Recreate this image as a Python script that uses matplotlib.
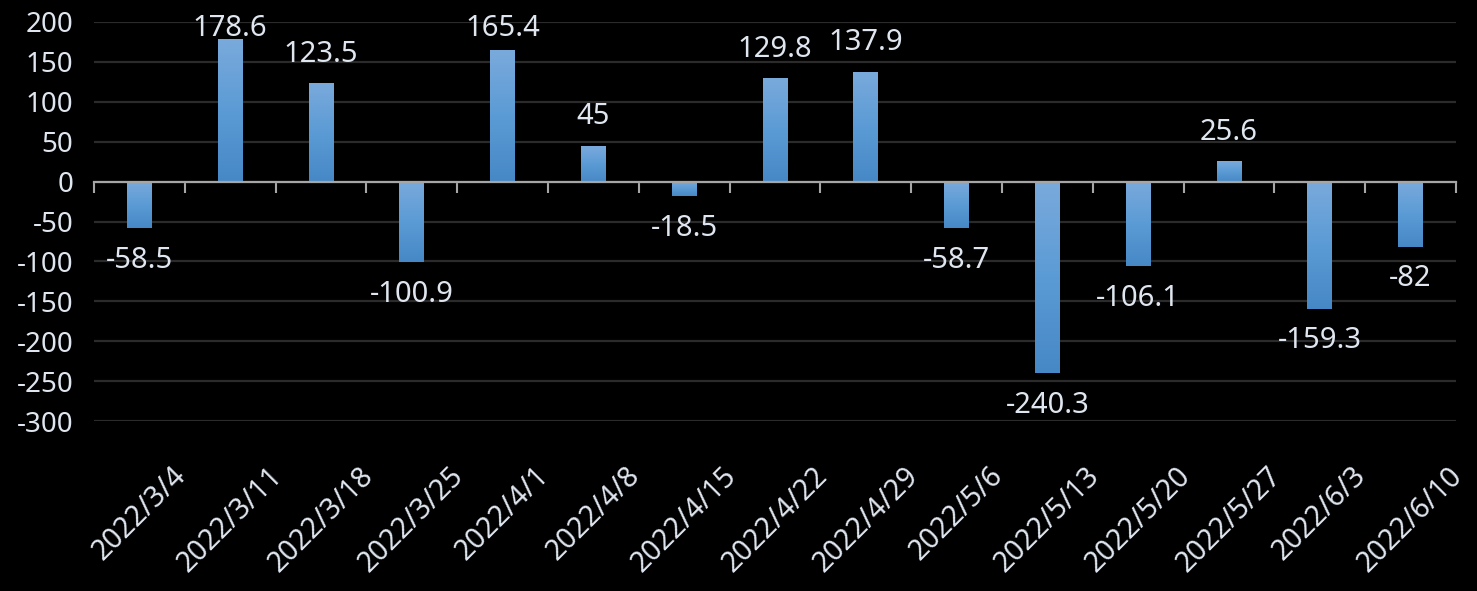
import numpy as np
import matplotlib
matplotlib.use("Agg")
import matplotlib.pyplot as plt
from matplotlib.colors import LinearSegmentedColormap

dates = ["2022/3/4", "2022/3/11", "2022/3/18", "2022/3/25", "2022/4/1",
         "2022/4/8", "2022/4/15", "2022/4/22", "2022/4/29", "2022/5/6",
         "2022/5/13", "2022/5/20", "2022/5/27", "2022/6/3", "2022/6/10"]
values = [-58.5, 178.6, 123.5, -100.9, 165.4, 45, -18.5, 129.8, 137.9,
          -58.7, -240.3, -106.1, 25.6, -159.3, -82]
yticks = [200, 150, 100, 50, 0, -50, -100, -150, -200, -250, -300]

plt.rcParams['font.family'] = ['Noto Sans', 'DejaVu Sans']
TXT = '#dfe6ef'

fig = plt.figure(figsize=(14.77, 5.91), dpi=100, facecolor='black')
ax = fig.add_axes([94/1477, 1-421/591, (1456-94)/1477, (421-22)/591])
ax.set_facecolor('black')

x = np.arange(len(values))
bars = ax.bar(x, values, width=0.275, color='#5b9bd5', zorder=3)

cmap = LinearSegmentedColormap.from_list('g', ['#7aaadc', '#5b9bd5', '#4688c6'])
grad = np.linspace(0, 1, 256).reshape(-1, 1)
for b in bars:
    x0, w = b.get_x(), b.get_width()
    y0, h = b.get_y(), b.get_height()
    lo, hi = min(y0, y0 + h), max(y0, y0 + h)
    im = ax.imshow(grad, cmap=cmap, extent=[x0, x0 + w, lo, hi], origin='upper',
                   aspect='auto', zorder=4)
    im.set_clip_path(b)

ax.set_xlim(-0.5, len(values) - 0.5)
ax.set_ylim(-300, 200)

# data labels
for xi, v in zip(x, values):
    ly = v + 36 if v >= 0 else v - 40
    ly = min(ly, 192)
    ax.text(xi, ly, f"{v:g}", ha='center', va='center', color=TXT,
            fontsize=21, zorder=5)

ax.set_yticks(yticks)
ax.set_yticklabels([str(t) for t in yticks])
ax.yaxis.grid(True, color='#2b2b2b', linewidth=1.6, zorder=0)
ax.tick_params(axis='y', length=0, pad=15, labelsize=20, labelcolor=TXT)

ax.set_xticks(x)
ax.set_xticklabels(dates)
ax.set_xticks(np.arange(-0.5, len(values), 1.0), minor=True)
ax.tick_params(axis='x', which='major', length=0, pad=29, labelsize=20.5,
               labelcolor=TXT, labelrotation=45)
ax.tick_params(axis='x', which='minor', top=True, bottom=False, direction='in',
               length=8, width=1.5, color='#a6a6a6')
for lab in ax.get_xticklabels():
    lab.set_ha('right')
    lab.set_va('center')
    lab.set_rotation_mode('anchor')

for s in ['left', 'right', 'bottom']:
    ax.spines[s].set_visible(False)
ax.spines['top'].set_position(('data', 0))
ax.spines['top'].set_color('#a6a6a6')
ax.spines['top'].set_linewidth(1.6)
ax.spines['top'].set_zorder(6)

fig.savefig('out.png', dpi=100, facecolor='black')
